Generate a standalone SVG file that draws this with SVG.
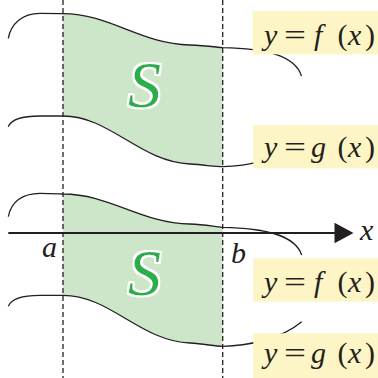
<svg xmlns="http://www.w3.org/2000/svg" width="378" height="378" viewBox="0 0 378 378" font-family="Liberation Serif">
<defs>
<style>
.region{fill:#cde6c9;stroke:none}
.curve{fill:none;stroke:#231f20;stroke-width:1.3}
.dash{fill:none;stroke:#231f20;stroke-width:1.3;stroke-dasharray:5 3}
.axis{fill:none;stroke:#231f20;stroke-width:1.9}
.box{fill:#fdf5c5;stroke:none}
.lbl{font-size:30px;fill:#231f20}
.it{font-style:italic}
.S{font-style:italic;font-size:66px;fill:#2bae4a}
</style>
<filter id="halo" x="-20%" y="-20%" width="140%" height="140%">
<feMorphology in="SourceAlpha" operator="dilate" radius="1.5" result="d"/>
<feFlood flood-color="#ffffff"/>
<feComposite in2="d" operator="in"/>
<feMerge><feMergeNode/><feMergeNode in="SourceGraphic"/></feMerge>
</filter>
</defs>
<rect width="378" height="378" fill="#ffffff"/>
<g id="regions">
<path class="region" d="M63,13.7 C110,13.7 140,44 190,45 C205,45.5 215,47 222.7,47.7 L222.7,166.7 C215,166.7 205,165.5 190,164 C140,162 110,116 63,116 Z"/>
<path class="region" d="M63,194 C110,194 140,223 190,224 C205,224.5 215,226.8 222.7,227.3 L222.7,346.3 C215,346.3 205,345 190,343 C140,341 110,295.3 63,295.3 Z"/>
</g>
<g id="connectors">
<line class="dash" x1="63" y1="0" x2="63" y2="378"/>
<line class="dash" x1="222.7" y1="0" x2="222.7" y2="378"/>
<path class="curve" d="M8.3,38.3 C11,24 22,13.5 40,13.4 C50,13.4 58,13.6 63,13.7 C110,13.7 140,44 190,45 C205,45.5 215,47 222.7,47.7 C265,48.5 295,55 301.5,76"/>
<path class="curve" d="M8.3,126.7 C11,120 22,116 40,116 C50,116 58,116 63,116 C110,116 140,162 190,164 C205,165 215,166.7 222.7,166.7 C245,166.5 280,160 301.7,141.7"/>
<path class="curve" d="M8.3,216.7 C11,202 22,193.4 40,193.3 C50,193.3 58,193.8 63,194 C110,194 140,223 190,224 C205,224.5 215,226.8 222.7,227.3 C265,228 295,235 301.7,255"/>
<path class="curve" d="M8.3,306.3 C11,299 22,295.3 40,295.3 C50,295.3 58,295.3 63,295.3 C110,295.3 140,341 190,343 C205,344 215,346.3 222.7,346.3 C245,346 280,340 301.7,321.7"/>
<line class="axis" x1="8.3" y1="233" x2="336" y2="233"/>
<polygon fill="#231f20" points="353.5,233 334.5,222.7 334.5,243.3"/>
</g>
<g id="S-top"><text class="S" font-family="Liberation Serif" filter="url(#halo)" x="128" y="107">S</text></g>
<g id="S-bottom"><text class="S" font-family="Liberation Serif" filter="url(#halo)" x="128" y="295">S</text></g>
<g id="axis-labels">
<text class="lbl it" font-family="Liberation Serif" x="360" y="240" font-size="28">x</text>
<text class="lbl it" font-family="Liberation Serif" x="42" y="256.7">a</text>
<text class="lbl it" font-family="Liberation Serif" x="231" y="263.3">b</text>
</g>
<g id="label-f-top">
<rect class="box" x="252.7" y="11" width="125.3" height="43.3"/>
<text class="lbl it" font-family="Liberation Serif" x="264" y="45">y</text>
<text class="lbl" font-family="Liberation Serif" transform="translate(284,45) scale(1.3,1)">=</text>
<text class="lbl it" font-family="Liberation Serif" x="314" y="45">f</text>
<text class="lbl" font-family="Liberation Serif" x="337.5" y="45">(</text>
<text class="lbl it" font-family="Liberation Serif" x="348" y="45">x</text>
<text class="lbl" font-family="Liberation Serif" x="365" y="45">)</text>
</g>
<g id="label-g-top">
<rect class="box" x="253.3" y="125" width="124.7" height="43.3"/>
<text class="lbl it" font-family="Liberation Serif" x="264" y="157">y</text>
<text class="lbl" font-family="Liberation Serif" transform="translate(284,157) scale(1.3,1)">=</text>
<text class="lbl it" font-family="Liberation Serif" x="311" y="157">g</text>
<text class="lbl" font-family="Liberation Serif" x="337.5" y="157">(</text>
<text class="lbl it" font-family="Liberation Serif" x="348" y="157">x</text>
<text class="lbl" font-family="Liberation Serif" x="365" y="157">)</text>
</g>
<g id="label-f-bottom">
<rect class="box" x="253.3" y="258.3" width="124.7" height="43.4"/>
<text class="lbl it" font-family="Liberation Serif" x="264" y="292">y</text>
<text class="lbl" font-family="Liberation Serif" transform="translate(284,292) scale(1.3,1)">=</text>
<text class="lbl it" font-family="Liberation Serif" x="314" y="292">f</text>
<text class="lbl" font-family="Liberation Serif" x="337.5" y="292">(</text>
<text class="lbl it" font-family="Liberation Serif" x="348" y="292">x</text>
<text class="lbl" font-family="Liberation Serif" x="365" y="292">)</text>
</g>
<g id="label-g-bottom">
<rect class="box" x="253.3" y="333.3" width="124.7" height="44.7"/>
<text class="lbl it" font-family="Liberation Serif" x="264" y="363">y</text>
<text class="lbl" font-family="Liberation Serif" transform="translate(284,363) scale(1.3,1)">=</text>
<text class="lbl it" font-family="Liberation Serif" x="311" y="363">g</text>
<text class="lbl" font-family="Liberation Serif" x="337.5" y="363">(</text>
<text class="lbl it" font-family="Liberation Serif" x="348" y="363">x</text>
<text class="lbl" font-family="Liberation Serif" x="365" y="363">)</text>
</g>
</svg>
